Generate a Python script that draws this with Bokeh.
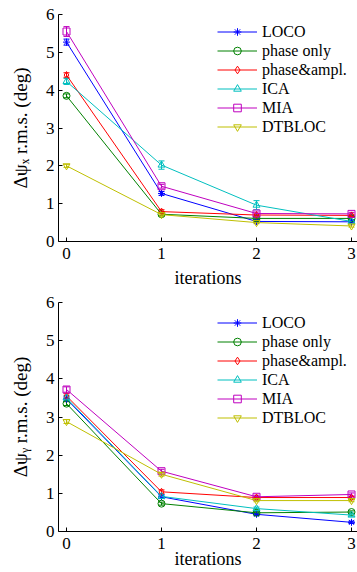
from bokeh.plotting import figure
from bokeh.layouts import column
from bokeh.models import ColumnDataSource, Whisker, TeeHead, Range1d, FixedTicker
from bokeh.embed import file_html
from bokeh.resources import INLINE

# ---------------- data ----------------
iterations = [0, 1, 2, 3]
methods = ["LOCO", "phase only", "phase&ampl.", "ICA", "MIA", "DTBLOC"]

psi_x_loco = [5.27, 1.27, 0.53, 0.52]
psi_x_phase = [3.85, 0.72, 0.61, 0.61]
psi_x_phamp = [4.40, 0.79, 0.70, 0.69]
psi_x_ica = [4.23, 2.02, 0.96, 0.53]
psi_x_mia = [5.55, 1.46, 0.74, 0.73]
psi_x_dtbloc = [2.00, 0.71, 0.50, 0.41]

err_x_loco = [0.08, 0.05, 0.03, 0.03]
err_x_phase = [0.05, 0.04, 0.03, 0.03]
err_x_phamp = [0.06, 0.05, 0.03, 0.03]
err_x_ica = [0.08, 0.11, 0.12, 0.04]
err_x_mia = [0.13, 0.05, 0.04, 0.04]
err_x_dtbloc = [0.04, 0.04, 0.03, 0.03]

psi_y_loco = [3.47, 0.91, 0.45, 0.24]
psi_y_phase = [3.35, 0.73, 0.49, 0.51]
psi_y_phamp = [3.55, 1.04, 0.89, 0.89]
psi_y_ica = [3.50, 0.92, 0.60, 0.43]
psi_y_mia = [3.72, 1.58, 0.91, 0.97]
psi_y_dtbloc = [2.88, 1.50, 0.81, 0.81]

err_y_loco = [0.05, 0.04, 0.03, 0.03]
err_y_phase = [0.05, 0.04, 0.03, 0.03]
err_y_phamp = [0.06, 0.05, 0.03, 0.03]
err_y_ica = [0.06, 0.05, 0.04, 0.03]
err_y_mia = [0.07, 0.05, 0.04, 0.04]
err_y_dtbloc = [0.05, 0.05, 0.03, 0.03]

x_ticks = [0, 1, 2, 3]
y_ticks = [0, 1, 2, 3, 4, 5, 6]
x_label = "iterations"
y_label_top = "Δψₓ r.m.s. (deg)"
y_label_bottom = "Δψᵧ r.m.s. (deg)"

colors = ["#0000ff", "#008000", "#ff0000", "#00bfbf", "#bf00bf", "#bfbf00"]
markers = ["asterisk", "circle", "diamond", "triangle", "square", "inverted_triangle"]

SERIF = "Liberation Serif"
W = 357
BORDER_L = 58
PX_PER_X = 95.0
X0 = -8.0 / PX_PER_X
X1 = X0 + (W - BORDER_L) / PX_PER_X
Y0, Y1 = 0.0, 6.0


def make_plot(values, errors, ylabel, height, top, bottom, label_standoff, leg_from_bottom):
    p = figure(width=W, height=height, output_backend="svg", toolbar_location=None,
               x_range=Range1d(X0, X1), y_range=Range1d(Y0, Y1),
               min_border_left=BORDER_L, min_border_right=0,
               min_border_top=top, min_border_bottom=bottom)
    p.outline_line_color = None
    p.xgrid.visible = False
    p.ygrid.visible = False
    p.background_fill_color = "white"
    p.border_fill_color = "white"
    for ax, ticks in ((p.xaxis, x_ticks), (p.yaxis, y_ticks)):
        ax.ticker = FixedTicker(ticks=ticks)
        ax.major_tick_in = 4
        ax.major_tick_out = 0
        ax.minor_tick_line_color = None
        ax.axis_line_color = "black"
        ax.major_tick_line_color = "black"
        ax.major_label_text_font = SERIF
        ax.major_label_text_font_size = "17px"
        ax.major_label_text_color = "black"
        ax.axis_label_text_font = SERIF
        ax.axis_label_text_font_style = "normal"
        ax.axis_label_text_color = "black"
    p.xaxis.axis_label_text_font_size = "18px"
    p.yaxis.axis_label_text_font_size = "19px"
    p.xaxis.major_label_standoff = 6
    p.yaxis.major_label_standoff = 4
    p.xaxis.axis_label = x_label
    p.xaxis.axis_label_standoff = label_standoff
    p.yaxis.axis_label = ylabel
    p.yaxis.axis_label_standoff = 12

    for name, vals, errs, c, m in zip(methods, values, errors, colors, markers):
        src = ColumnDataSource(dict(x=iterations, y=vals,
                                    lo=[v - e for v, e in zip(vals, errs)],
                                    hi=[v + e for v, e in zip(vals, errs)]))
        p.line("x", "y", source=src, line_color=c, line_width=1, legend_label=name)
        p.scatter("x", "y", source=src, marker=m, size=7, line_color=c,
                  fill_color=None, line_width=1, legend_label=name)
        w = Whisker(base="x", lower="lo", upper="hi", source=src, line_color=c, line_width=1,
                    upper_head=TeeHead(size=6, line_color=c, line_width=1),
                    lower_head=TeeHead(size=6, line_color=c, line_width=1))
        p.add_layout(w)

    leg = p.legend[0]
    leg.location = (159, leg_from_bottom)
    leg.border_line_color = None
    leg.background_fill_alpha = 0
    leg.margin = 0
    leg.padding = 0
    leg.spacing = 0
    leg.label_height = 19
    leg.glyph_height = 19
    leg.glyph_width = 40
    leg.label_standoff = 5
    leg.label_text_font = SERIF
    leg.label_text_font_size = "16px"
    leg.label_text_color = "black"
    return p


p1 = make_plot([psi_x_loco, psi_x_phase, psi_x_phamp, psi_x_ica, psi_x_mia, psi_x_dtbloc],
               [err_x_loco, err_x_phase, err_x_phamp, err_x_ica, err_x_mia, err_x_dtbloc],
               y_label_top, 290, 14, 48, 6, 105)
p2 = make_plot([psi_y_loco, psi_y_phase, psi_y_phamp, psi_y_ica, psi_y_mia, psi_y_dtbloc],
               [err_y_loco, err_y_phase, err_y_phamp, err_y_ica, err_y_mia, err_y_dtbloc],
               y_label_bottom, 282, 12, 41, -3, 104)

layout = column(p1, p2, spacing=0)
open("out.html", "w").write(file_html(layout, INLINE))
